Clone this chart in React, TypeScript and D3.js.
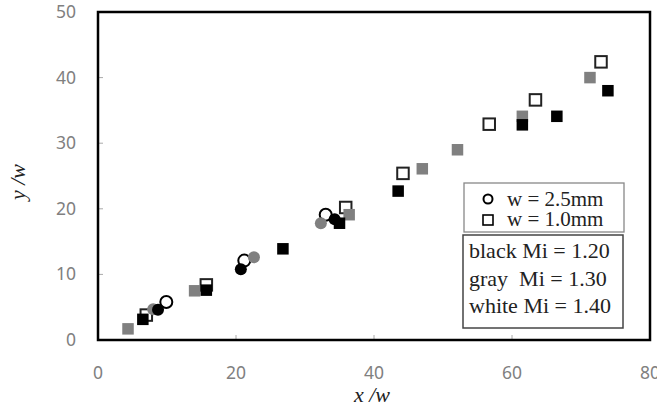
import React from "react";
import * as d3 from "d3";

type P = [number, number];

const circleWhite: P[] = [[9.9, 5.8], [21.2, 12.1], [33.0, 19.1]];
const circleGray: P[] = [[8.0, 4.7], [22.6, 12.6], [32.3, 17.8]];
const circleBlack: P[] = [[8.7, 4.6], [20.7, 10.8], [34.3, 18.4]];
const squareWhite: P[] = [[7.0, 3.8], [15.7, 8.4], [35.9, 20.2], [44.2, 25.4], [56.7, 32.9], [63.4, 36.6], [72.9, 42.4]];
const squareGray: P[] = [[4.35, 1.7], [14.0, 7.5], [36.4, 19.1], [47.0, 26.1], [52.1, 29.0], [61.5, 34.1], [71.3, 40.0]];
const squareBlack: P[] = [[6.5, 3.15], [15.7, 7.6], [26.8, 13.9], [35.0, 17.8], [43.5, 22.7], [61.5, 32.8], [66.5, 34.1], [73.9, 38.0]];

const xTicks = [0, 20, 40, 60, 80];
const yTicks = [0, 10, 20, 30, 40, 50];
const legendShapes = ["w = 2.5mm", "w = 1.0mm"];
const legendColors = ["black Mi = 1.20", "gray\u00a0\u00a0Mi = 1.30", "white Mi = 1.40"];

const W = 657, H = 410;
const L = 98, R = 650, T = 12, B = 340;

export default function App() {
  const x = d3.scaleLinear().domain([0, 80]).range([L, R]);
  const y = d3.scaleLinear().domain([0, 50]).range([B, T]);
  const GRAY = "#808080";
  const sq = 11.5;
  const cr = 6;

  const squares = (pts: P[], fill: string, stroke: string, key: string) =>
    pts.map((p, i) => (
      <rect key={key + i} x={x(p[0]) - sq / 2} y={y(p[1]) - sq / 2} width={sq} height={sq}
        fill={fill} stroke={stroke} strokeWidth={fill === "#fff" ? 2 : 0} />
    ));
  const circles = (pts: P[], fill: string, key: string) =>
    pts.map((p, i) => (
      <circle key={key + i} cx={x(p[0])} cy={y(p[1])} r={cr}
        fill={fill} stroke={fill === "#fff" ? "#000" : "none"} strokeWidth={2} />
    ));

  return (
    <svg width={W} height={H} style={{ position: "absolute", left: 0, top: 0, background: "#fff" }}>
      {/* ticks */}
      {yTicks.slice(1, -1).map((t) => (
        <line key={"yt" + t} x1={L} x2={L + 5} y1={y(t)} y2={y(t)} stroke="#aaa" strokeWidth={1} />
      ))}
      {xTicks.slice(1, -1).map((t) => (
        <line key={"xt" + t} x1={x(t)} x2={x(t)} y1={B} y2={B - 5} stroke="#aaa" strokeWidth={1} />
      ))}
      {/* tick labels */}
      {yTicks.map((t) => (
        <text key={"yl" + t} x={L - 22} y={y(t) + 6} textAnchor="end" fontFamily="'Noto Sans', sans-serif"
          fontSize={17.5} fill={GRAY}>{t}</text>
      ))}
      {xTicks.map((t) => (
        <text key={"xl" + t} x={x(t)} y={379} textAnchor="middle" fontFamily="'Noto Sans', sans-serif"
          fontSize={17.5} fill={GRAY}>{t}</text>
      ))}
      {/* axis titles */}
      <text x={372} y={402} textAnchor="middle" fontFamily="'Liberation Serif', serif" fontStyle="italic"
        fontSize={22} fill="#222">x /w</text>
      <text transform="translate(25,182) rotate(-90)" textAnchor="middle" fontFamily="'Liberation Serif', serif"
        fontStyle="italic" fontSize={22} fill="#222">y /w</text>

      {/* data */}
      {squares(squareWhite, "#fff", "#222", "sw")}
      {circles(circleWhite, "#fff", "cw")}
      {squares(squareGray, GRAY, "none", "sg")}
      {circles(circleGray, GRAY, "cg")}
      {squares(squareBlack, "#000", "none", "sb")}
      {circles(circleBlack, "#000", "cb")}

      {/* frame */}
      <rect x={L} y={T} width={R - L} height={B - T} fill="none" stroke="#000" strokeWidth={2.5} />

      {/* legend box 1 */}
      <rect x={464} y={183} width={160} height={49} fill="#fff" stroke="#888" strokeWidth={1.3} />
      <circle cx={488} cy={199} r={4.5} fill="#fff" stroke="#000" strokeWidth={2} />
      <rect x={483} y={215} width={10} height={10} fill="#fff" stroke="#000" strokeWidth={1.6} />
      {legendShapes.map((s, i) => (
        <text key={"ls" + i} x={507} y={206 + i * 20} fontFamily="'Liberation Serif', serif" fontSize={21}
          fill="#222">{s}</text>
      ))}
      {/* legend box 2 */}
      <rect x={463} y={235} width={160} height={93} fill="#fff" stroke="#444" strokeWidth={1.5} />
      {legendColors.map((s, i) => (
        <text key={"lc" + i} x={469} y={258 + i * 27.5} fontFamily="'Liberation Serif', serif" fontSize={22}
          fill="#222">{s}</text>
      ))}
    </svg>
  );
}
